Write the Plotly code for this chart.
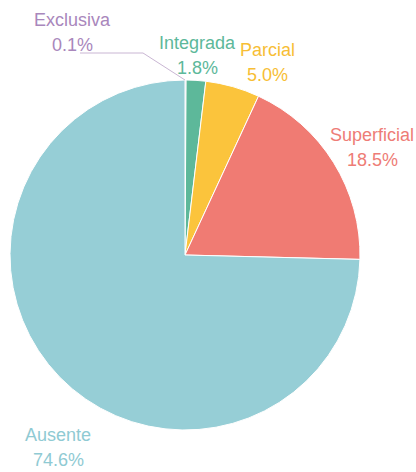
import plotly.graph_objects as go

# Data
categories = ["Exclusiva", "Integrada", "Parcial", "Superficial", "Ausente"]
values = [0.1, 1.8, 5.0, 18.5, 74.6]
colors = ["#B48FC6", "#5DB89A", "#FBC43C", "#F07B73", "#96CED6"]
text_colors = ["#A987BC", "#5DB89A", "#F7BE35", "#EE7C76", "#8FCAD3"]

W, H = 416, 472
# label centre positions in pixels (styling)
label_pos = {
    "Exclusiva": (72, 20),
    "Integrada": (197, 43),
    "Parcial": (267, 50),
    "Superficial": (372, 135),
    "Ausente": (58, 435),
}
LINE_GAP = 25

fig = go.Figure(go.Pie(
    labels=categories,
    values=values,
    sort=False,
    direction="clockwise",
    rotation=0,
    marker=dict(colors=colors, line=dict(color="white", width=1)),
    textinfo="none",
    hoverinfo="label+percent",
    showlegend=False,
    domain=dict(x=[10 / W, 360 / W], y=[1 - 430 / H, 1 - 80 / H]),
))

font_family = "Liberation Sans, Arial, sans-serif"
for cat, val, tc in zip(categories, values, text_colors):
    px, py = label_pos[cat]
    fig.add_annotation(x=px / W, y=1 - py / H, xref="paper", yref="paper",
                       text=cat, showarrow=False, xanchor="center", yanchor="middle",
                       font=dict(family=font_family, size=18, color=tc))
    fig.add_annotation(x=px / W, y=1 - (py + LINE_GAP) / H, xref="paper", yref="paper",
                       text=f"{val:.1f}%", showarrow=False, xanchor="center", yanchor="middle",
                       font=dict(family=font_family, size=18, color=tc))

# leader line for the tiny Exclusiva slice
fig.add_shape(type="path",
              path=f"M {80/W} {1-53/H} L {143/W} {1-53/H} L {185/W} {1-80/H}",
              xref="paper", yref="paper",
              line=dict(color="#C9B6D3", width=1))

fig.update_layout(
    width=W, height=H,
    margin=dict(l=0, r=0, t=0, b=0),
    paper_bgcolor="white",
    plot_bgcolor="white",
)

fig.write_html("out.html")
